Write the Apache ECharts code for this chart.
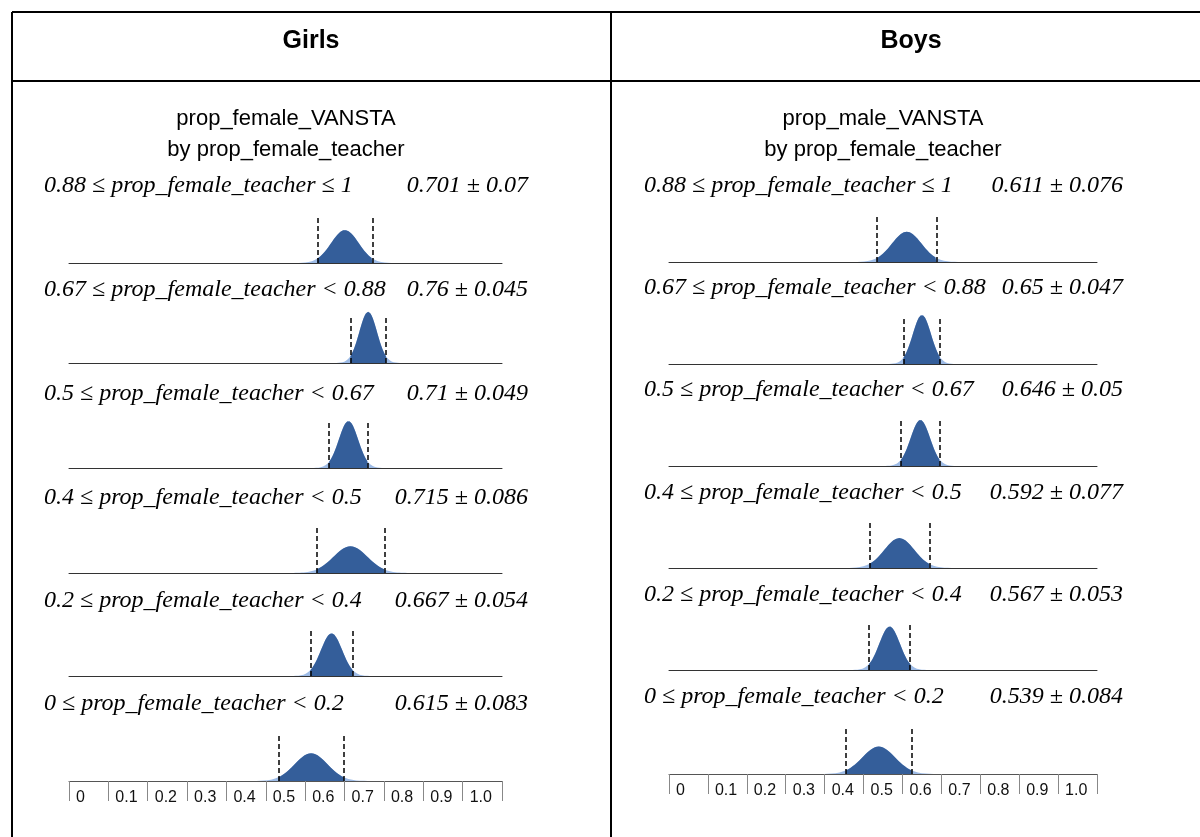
<!DOCTYPE html>
<html>
<head>
    <meta charset="utf-8">
    <title>prop_VANSTA by prop_female_teacher</title>
    <script src="https://cdn.jsdelivr.net/npm/echarts@6/dist/echarts.min.js"></script>
    <style>
        html, body { margin: 0; padding: 0; background: #fff; }
        #chart { width: 1200px; height: 837px; }
    </style>
</head>
<body>
<div id="chart"></div>
<script type="text/javascript">
    // 数据
    var panelNames = ['Girls', 'Boys'];
    var titlesGirls = ['prop_female_VANSTA', 'by prop_female_teacher'];
    var titlesBoys = ['prop_male_VANSTA', 'by prop_female_teacher'];
    var conditions = [
        '0.88 \u2264 prop_female_teacher \u2264 1',
        '0.67 \u2264 prop_female_teacher < 0.88',
        '0.5 \u2264 prop_female_teacher < 0.67',
        '0.4 \u2264 prop_female_teacher < 0.5',
        '0.2 \u2264 prop_female_teacher < 0.4',
        '0 \u2264 prop_female_teacher < 0.2'
    ];
    var girlsMean = [0.701, 0.76, 0.71, 0.715, 0.667, 0.615];
    var girlsSd = [0.07, 0.045, 0.049, 0.086, 0.054, 0.083];
    var boysMean = [0.611, 0.65, 0.646, 0.592, 0.567, 0.539];
    var boysSd = [0.076, 0.047, 0.05, 0.077, 0.053, 0.084];
    var tickLabels = ['0', '0.1', '0.2', '0.3', '0.4', '0.5', '0.6', '0.7', '0.8', '0.9', '1.0'];

    // 布局
    var girlsBase = [263, 363, 468, 573, 676, 781];
    var boysBase = [262, 364, 466, 568, 670, 774];
    var girlsLabelY = [186, 290, 394, 498, 601, 704];
    var boysLabelY = [186, 288, 390, 493, 595, 697];
    var plotH = 52;
    var yMax = 18;
    var dashTop = 16.6;
    var DARK = '#345e9a';
    var LIGHT = '#9dbbe6';

    // 曲线: 区间 mean ± sd 为两个标准误, 曲线宽度取 sd/2
    function density(m, s, zFrom, zTo) {
        var pts = [];
        var n = 60;
        var se = s / 2;
        for (var i = 0; i <= n; i++) {
            var z = zFrom + (zTo - zFrom) * i / n;
            pts.push([m + se * z, Math.exp(-z * z / 2) / (se * Math.sqrt(2 * Math.PI))]);
        }
        return pts;
    }

    var myChart = echarts.init(document.getElementById('chart'));
    var grids = [], xAxes = [], yAxes = [], series = [], graphics = [];

    function addPanel(means, sds, bases, labelYs, left, width, valueRight, titles, titleX) {
        for (var i = 0; i < means.length; i++) {
            var idx = grids.length;
            var last = i === means.length - 1;
            grids.push({left: left, width: width, top: bases[i] - plotH, height: plotH});
            xAxes.push({
                type: 'value', gridIndex: idx, min: 0, max: 1.1, interval: 0.1,
                splitLine: {show: false},
                axisLine: {show: true, lineStyle: {color: last ? '#555' : '#333', width: 1}},
                axisTick: {show: last, length: 20, inside: false, lineStyle: {color: '#888'}},
                axisLabel: {
                    show: last, align: 'left', padding: [0, 0, 0, 7], margin: 9,
                    fontSize: 16, color: '#111', fontFamily: 'Liberation Sans',
                    showMaxLabel: true, showMinLabel: true,
                    formatter: function (v, k) { return tickLabels[k] || ''; }
                }
            });
            yAxes.push({type: 'value', gridIndex: idx, min: 0, max: yMax, show: false});
            var m = means[i], s = sds[i];
            series.push({
                type: 'line', xAxisIndex: idx, yAxisIndex: idx, showSymbol: false, silent: true,
                data: density(m, s, -3.6, 3.6),
                lineStyle: {width: 0}, areaStyle: {color: LIGHT, opacity: 1}
            });
            series.push({
                type: 'line', xAxisIndex: idx, yAxisIndex: idx, showSymbol: false, silent: true,
                data: density(m, s, -2, 2),
                lineStyle: {width: 0}, areaStyle: {color: DARK, opacity: 1},
                markLine: {
                    silent: true, symbol: 'none', label: {show: false},
                    lineStyle: {type: [5, 3], color: '#000', width: 1.5},
                    data: [
                        [{coord: [m - s, 0]}, {coord: [m - s, dashTop]}],
                        [{coord: [m + s, 0]}, {coord: [m + s, dashTop]}]
                    ]
                }
            });
            graphics.push({
                type: 'text', style: {
                    text: conditions[i], x: left - 25, y: labelYs[i], textAlign: 'left', textVerticalAlign: 'middle',
                    font: 'italic 24px "Liberation Serif"', fill: '#000'
                }
            });
            graphics.push({
                type: 'text', style: {
                    text: m + ' \u00b1 ' + s, x: valueRight, y: labelYs[i], textAlign: 'right', textVerticalAlign: 'middle',
                    font: 'italic 24px "Liberation Serif"', fill: '#000'
                }
            });
        }
        graphics.push({type: 'text', style: {text: titles[0], x: titleX, y: 119, textAlign: 'center', textVerticalAlign: 'middle', font: '22px "Liberation Sans"', fill: '#000'}});
        graphics.push({type: 'text', style: {text: titles[1], x: titleX, y: 150, textAlign: 'center', textVerticalAlign: 'middle', font: '22px "Liberation Sans"', fill: '#000'}});
    }

    addPanel(girlsMean, girlsSd, girlsBase, girlsLabelY, 69, 433, 528, titlesGirls, 286);
    addPanel(boysMean, boysSd, boysBase, boysLabelY, 669, 428, 1123, titlesBoys, 883);

    // 表格边框
    var border = {stroke: '#000', lineWidth: 2};
    graphics.push({type: 'line', shape: {x1: 12, y1: 12, x2: 1200, y2: 12}, style: border});
    graphics.push({type: 'line', shape: {x1: 12, y1: 81, x2: 1200, y2: 81}, style: border});
    graphics.push({type: 'line', shape: {x1: 12, y1: 12, x2: 12, y2: 837}, style: border});
    graphics.push({type: 'line', shape: {x1: 611, y1: 12, x2: 611, y2: 837}, style: border});
    graphics.push({type: 'text', style: {text: panelNames[0], x: 311, y: 41, textAlign: 'center', textVerticalAlign: 'middle', font: 'bold 25px "Liberation Sans"', fill: '#000'}});
    graphics.push({type: 'text', style: {text: panelNames[1], x: 911, y: 41, textAlign: 'center', textVerticalAlign: 'middle', font: 'bold 25px "Liberation Sans"', fill: '#000'}});

    myChart.setOption({
        animation: false,
        grid: grids,
        xAxis: xAxes,
        yAxis: yAxes,
        series: series,
        graphic: graphics
    });
</script>
</body>
</html>
